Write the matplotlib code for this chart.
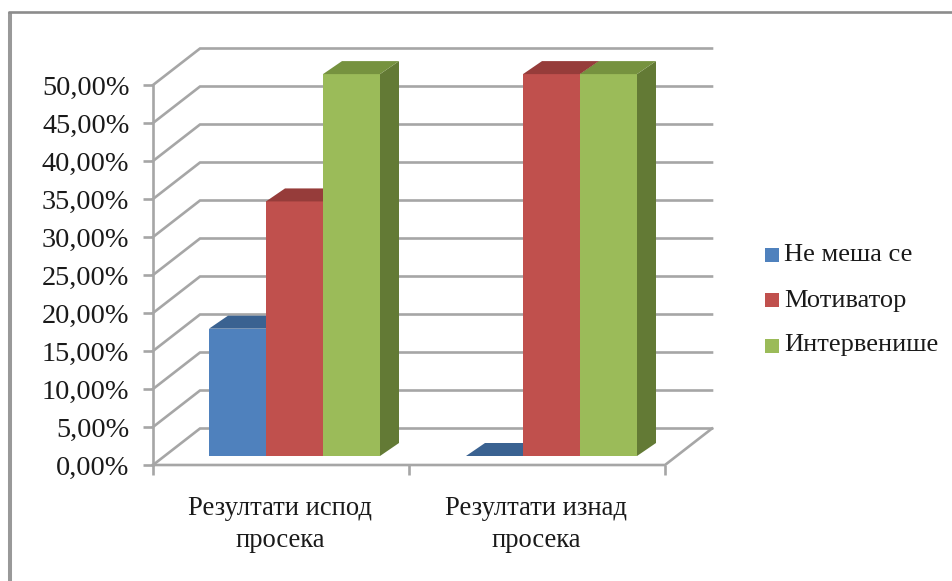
import matplotlib
matplotlib.use('Agg')
import matplotlib.pyplot as plt
from matplotlib.lines import Line2D
from matplotlib.patches import Polygon, Rectangle
from matplotlib.transforms import ScaledTranslation

categories = ['Резултати испод\nпросека', 'Резултати изнад\nпросека']
series_names = ['Не меша се', 'Мотиватор', 'Интервенише']
ne_mesa = [16.67, 0.0]
motivator = [33.33, 50.0]
intervenise = [50.0, 50.0]
y_ticks = [0, 5, 10, 15, 20, 25, 30, 35, 40, 45, 50]
y_labels = ['0,00%', '5,00%', '10,00%', '15,00%', '20,00%', '25,00%',
            '30,00%', '35,00%', '40,00%', '45,00%', '50,00%']

# front, top and side shades per series
colors = [('#4F81BD', '#3A6291', '#2F5078'),
          ('#C0504D', '#963C3A', '#7D3230'),
          ('#9BBB59', '#76923F', '#637A35')]

W, H = 952, 581
GRID = '#A6A6A6'
TEXT = '#1a1a1a'

plt.rcParams['font.family'] = ['Liberation Serif', 'DejaVu Serif']

fig = plt.figure(figsize=(W / 100, H / 100), dpi=100)
fig.patch.set_facecolor('white')

# frame around the chart, only the left and top edges are in view
fig.add_artist(Line2D([9.5 / W, 9.5 / W], [0, 1 - 12 / H], color='#999999', lw=2.9,
                      solid_capstyle='butt'))
fig.add_artist(Line2D([8 / W, 1], [1 - 12 / H, 1 - 12 / H], color='#8C8C8C', lw=1.9,
                      solid_capstyle='butt'))

# axes box = front edge of the 3D floor
x0, x1, y_bot, y_top = 153, 665, 465, 85
ax = fig.add_axes([x0 / W, 1 - y_bot / H, (x1 - x0) / W, (y_bot - y_top) / H])
ax.set_xlim(0, 2)
ax.set_ylim(0, 50)
ax.patch.set_alpha(0)
for s in ax.spines.values():
    s.set_visible(False)

px_x = 2 / (x1 - x0)
px_y = 50 / (y_bot - y_top)
wall_dx, wall_dy = 47 * px_x, 36.5 * px_y

# walls and gridlines
for t in y_ticks:
    ax.plot([0, wall_dx, 2 + wall_dx], [t, t + wall_dy, t + wall_dy], color=GRID, lw=1.9,
            clip_on=False, solid_joinstyle='miter', zorder=1)
ax.plot([0, 2, 2 + wall_dx], [0, 0, wall_dy], color=GRID, lw=1.9, clip_on=False, zorder=1)
ax.plot([0, 0], [0, 50], color=GRID, lw=1.9, clip_on=False, zorder=1)

ax.set_yticks(y_ticks)
ax.set_yticklabels(y_labels, fontsize=20.3, color=TEXT)
# nudge the percent labels down a little
for lab in ax.get_yticklabels():
    lab.set_transform(lab.get_transform() + ScaledTranslation(0, -1.5 / 100, fig.dpi_scale_trans))
ax.set_xticks([0, 1, 2])
ax.set_xticklabels(['', '', ''])
ax.tick_params(axis='both', color=GRID, width=1.9, length=7)
ax.tick_params(axis='y', pad=10)

for c, label in zip([0.5, 1.5], categories):
    ax.annotate(label, (c - 1 * px_x, 0), xytext=(0, -22), textcoords='offset points',
                ha='center', va='top', fontsize=19.2, linespacing=1.38, color=TEXT)

# 3D bars
bar_w = 57 * px_x
depth_dx, depth_dy = 19 * px_x, 13 * px_y
base_y = 9 * px_y
first_x = [209, 466]
groups = [[ne_mesa[i], motivator[i], intervenise[i]] for i in range(2)]


def draw_bar(x, v, shades, z):
    top = base_y + v * 1.005
    front, lid, side = shades
    if v > 0:
        ax.add_patch(Polygon([(x, base_y), (x + bar_w, base_y), (x + bar_w, top), (x, top)],
                             facecolor=front, edgecolor='none', zorder=z, clip_on=False))
        ax.add_patch(Polygon([(x + bar_w, base_y), (x + bar_w + depth_dx, base_y + depth_dy),
                              (x + bar_w + depth_dx, top + depth_dy), (x + bar_w, top)],
                             facecolor=side, edgecolor='none', zorder=z, clip_on=False))
    ax.add_patch(Polygon([(x, top), (x + bar_w, top), (x + bar_w + depth_dx, top + depth_dy),
                          (x + depth_dx, top + depth_dy)],
                         facecolor=lid, edgecolor='none', zorder=z, clip_on=False))


for g, start in zip(groups, first_x):
    for j, v in enumerate(g):
        draw_bar((start - x0) * px_x + j * bar_w, v, colors[j], 3 + j)

# legend
marker_ys = [254.5, 299.5, 345.5]
text_ys = [255, 301, 345]
for name, my, ty, shades in zip(series_names, marker_ys, text_ys, colors):
    fig.add_artist(Rectangle((765 / W, 1 - (my + 7) / H), 14 / W, 14 / H,
                             transform=fig.transFigure, facecolor=shades[0], edgecolor='none'))
    fig.text(784 / W, 1 - ty / H, name, fontsize=19, va='center', ha='left', color=TEXT)

fig.savefig('out.png', dpi=100)
